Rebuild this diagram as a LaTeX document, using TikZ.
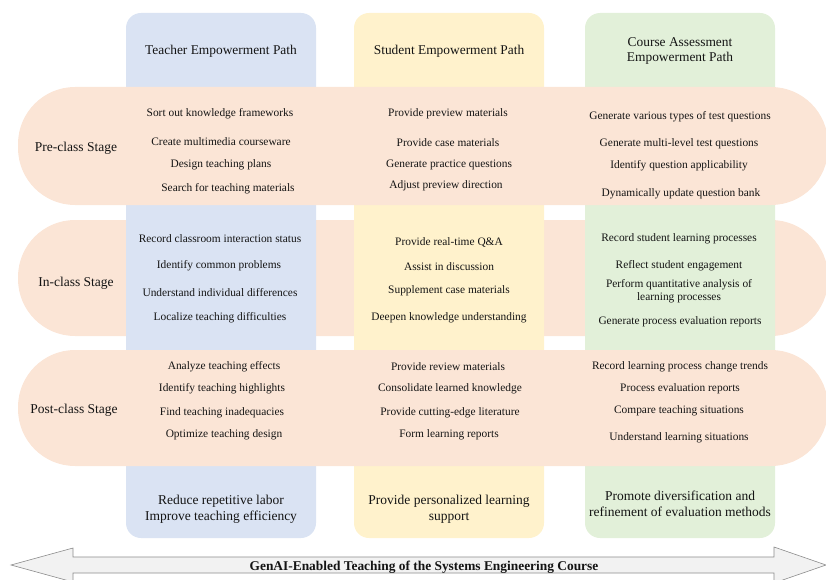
\documentclass[tikz,border=0pt]{standalone}
\usepackage{fontspec}
\setmainfont{Liberation Serif}
\definecolor{bandc}{HTML}{FBE5D6}
\definecolor{bluec}{HTML}{DAE3F3}
\definecolor{yellc}{HTML}{FFF2CC}
\definecolor{greenc}{HTML}{E2F0D9}
\definecolor{arrowf}{HTML}{F2F2F2}
\definecolor{arrowd}{HTML}{8C8C8C}
\tikzset{
  band/.style={fill=bandc, draw=none, rounded corners=57pt},
  colbox/.style={draw=none, rounded corners=15pt},
  txt/.style={align=center, inner sep=0pt, text=black!92, yshift=-2pt},
  item/.style={txt, font=\fontsize{11.4}{12.5}\selectfont},
  stagelbl/.style={txt, font=\fontsize{13.5}{15}\selectfont},
  header/.style={txt, font=\fontsize{13.4}{15.5}\selectfont},
  goal/.style={txt, font=\fontsize{13.5}{16}\selectfont},
}
\begin{document}
\begin{tikzpicture}[x=1pt,y=-1pt]
\useasboundingbox (0,0) rectangle (826,580);
% in-class band (behind columns)
\fill[band] (18,220) rectangle (828,336);
% columns
\fill[colbox, bluec] (126,13) rectangle (316,538);
\fill[colbox, yellc] (354,13) rectangle (544,538);
\fill[colbox, greenc] (585,13) rectangle (775,538);
% pre and post bands
\fill[band] (18,87) rectangle (828,205);
\fill[band] (18,350) rectangle (828,466);
% headers
\node[header] (h1) at (221,49) {Teacher Empowerment Path};
\node[header] (h2) at (449,49) {Student Empowerment Path};
\node[header] (h3) at (680,49) {Course Assessment\\Empowerment Path};
% stage labels
\node[stagelbl] (s1) at (76,146) {Pre-class Stage};
\node[stagelbl] (s2) at (76,281) {In-class Stage};
\node[stagelbl] (s3) at (74,408) {Post-class Stage};
% pre-class items
\node[item] (t11) at (220,112) {Sort out knowledge frameworks};
\node[item] (t12) at (221,140) {Create multimedia courseware};
\node[item] (t13) at (221,163) {Design teaching plans};
\node[item] (t14) at (228,187) {Search for teaching materials};
\node[item] (u11) at (448,112) {Provide preview materials};
\node[item] (u12) at (448,141) {Provide case materials};
\node[item] (u13) at (449,163) {Generate practice questions};
\node[item] (u14) at (446,184) {Adjust preview direction};
\node[item] (a11) at (680,115) {Generate various types of test questions};
\node[item] (a12) at (679,142) {Generate multi-level test questions};
\node[item] (a13) at (679,164) {Identify question applicability};
\node[item] (a14) at (681,192) {Dynamically update question bank};
% in-class items
\node[item] (t21) at (220,237) {Record classroom interaction status};
\node[item] (t22) at (219,264) {Identify common problems};
\node[item] (t23) at (220,291) {Understand individual differences};
\node[item] (t24) at (220,316) {Localize teaching difficulties};
\node[item] (u21) at (449,240) {Provide real-time Q\&A};
\node[item] (u22) at (449,265) {Assist in discussion};
\node[item] (u23) at (449,289) {Supplement case materials};
\node[item] (u24) at (449,316) {Deepen knowledge understanding};
\node[item] (a21) at (679,237) {Record student learning processes};
\node[item] (a22) at (679,264) {Reflect student engagement};
\node[item] (a23) at (679,289) {Perform quantitative analysis of\\learning processes};
\node[item] (a24) at (680,320) {Generate process evaluation reports};
% post-class items
\node[item] (t31) at (224,365) {Analyze teaching effects};
\node[item] (t32) at (222,387) {Identify teaching highlights};
\node[item] (t33) at (222,411) {Find teaching inadequacies};
\node[item] (t34) at (224,433) {Optimize teaching design};
\node[item] (u31) at (448,365) {Provide review materials};
\node[item] (u32) at (450,387) {Consolidate learned knowledge};
\node[item] (u33) at (450,411) {Provide cutting-edge literature};
\node[item] (u34) at (449,433) {Form learning reports};
\node[item] (a31) at (680,365) {Record learning process change trends};
\node[item] (a32) at (680,387) {Process evaluation reports};
\node[item] (a33) at (679,409) {Compare teaching situations};
\node[item] (a34) at (679,436) {Understand learning situations};
% goals
\node[goal] (g1) at (221,507) {Reduce repetitive labor\\Improve teaching efficiency};
\node[goal] (g2) at (449,507) {Provide personalized learning\\support};
\node[goal] (g3) at (680,502) {Promote diversification and\\refinement of evaluation methods};
% bottom double arrow
\draw[fill=arrowf, draw=arrowd, line width=0.6pt, line join=miter]
  (11,565) -- (73,548) -- (73,557) -- (774,557) -- (774,547) -- (826,565)
  -- (774,583) -- (774,573) -- (73,573) -- (73,582) -- cycle;
\node[txt, font=\bfseries\fontsize{13.4}{15}\selectfont] (title) at (424,565) {GenAI-Enabled Teaching of the Systems Engineering Course};
\end{tikzpicture}
\end{document}
